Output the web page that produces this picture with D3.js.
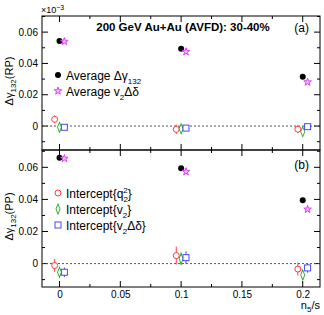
<!DOCTYPE html>
<html>
<head>
<meta charset="utf-8">
<script src="https://cdn.jsdelivr.net/npm/d3@7"></script>
<style>
  body { margin: 0; background: #fff; }
  svg { display: block; font-family: "Liberation Sans", Arial, sans-serif; }
</style>
</head>
<body>
<div id="chart"></div>
<script>
// n5/s values, and small x offsets used to separate the series
var xVals = [0, 0.1, 0.2];
var xTicks = [0, 0.05, 0.1, 0.15, 0.2];
var yTicks = [0, 0.02, 0.04, 0.06];

// panel (a): RP
var rpGamma = [0.0543, 0.0494, 0.0315];
var rpV2dd = [0.0540, 0.0475, 0.0281];
var rpQ2 = [0.0043, -0.0021, -0.0020];
var rpQ2Err = [0.0025, 0.0030, 0.0025];
var rpV2 = [-0.0008, -0.0017, -0.0036];
var rpV2Err = [0.0015, 0.0020, 0.0018];
var rpDd = [-0.0008, -0.0013, -0.0004];
var rpDdErr = [0.0015, 0.0018, 0.0015];

// panel (b): PP
var ppGamma = [0.0660, 0.0594, 0.0394];
var ppV2dd = [0.0655, 0.0573, 0.0338];
var ppQ2 = [-0.0012, 0.0050, -0.0034];
var ppQ2Err = [0.0040, 0.0055, 0.0040];
var ppV2 = [-0.0054, 0.0030, -0.0071];
var ppV2Err = [0.0030, 0.0040, 0.0030];
var ppDd = [-0.0054, 0.0037, -0.0027];
var ppDdErr = [0.0030, 0.0040, 0.0030];

var width = 324, height = 315;
var left = 42, right = 320;

var svg = d3.select("#chart").append("svg")
  .attr("width", width).attr("height", height);

var x = d3.scaleLinear().domain([-0.0144, 0.2142]).range([left, right]);

var panels = [
  { top: 16, bottom: 150, domain: [-0.0153, 0.0703], tag: "(a)", tagY: 32,
    ylab: "RP", gamma: rpGamma, v2dd: rpV2dd,
    q2: rpQ2, q2e: rpQ2Err, v2: rpV2, v2e: rpV2Err, dd: rpDd, dde: rpDdErr },
  { top: 150, bottom: 287, domain: [-0.0146, 0.0708], tag: "(b)", tagY: 169,
    ylab: "PP", gamma: ppGamma, v2dd: ppV2dd,
    q2: ppQ2, q2e: ppQ2Err, v2: ppV2, v2e: ppV2Err, dd: ppDd, dde: ppDdErr }
];

var red = "#ff3b3b", green = "#1fa81f", blue = "#4646ff", magenta = "#e040fb";
var star = d3.symbol().type(d3.symbolStar).size(18);
var diamond = d3.symbol().type(d3.symbolDiamond).size(22);

panels.forEach(function (p, i) {
  var y = d3.scaleLinear().domain(p.domain).range([p.bottom, p.top]);
  var g = svg.append("g");

  // minor + major ticks, inward on all four sides
  var xMinor = d3.range(0, 0.2001, 0.025);
  xMinor.forEach(function (v) {
    var len = Math.abs(v / 0.05 - Math.round(v / 0.05)) < 1e-6 ? 6 : 3;
    g.append("line").attr("x1", x(v)).attr("x2", x(v))
      .attr("y1", p.bottom).attr("y2", p.bottom - len).attr("stroke", "#000");
    g.append("line").attr("x1", x(v)).attr("x2", x(v))
      .attr("y1", p.top).attr("y2", p.top + len).attr("stroke", "#000");
  });
  var yMinor = d3.range(-0.01, 0.0701, 0.01);
  yMinor.forEach(function (v) {
    if (y(v) < p.top || y(v) > p.bottom) return;
    var len = Math.abs(v / 0.02 - Math.round(v / 0.02)) < 1e-6 ? 6 : 3;
    g.append("line").attr("x1", left).attr("x2", left + len)
      .attr("y1", y(v)).attr("y2", y(v)).attr("stroke", "#000");
    g.append("line").attr("x1", right).attr("x2", right - len)
      .attr("y1", y(v)).attr("y2", y(v)).attr("stroke", "#000");
  });

  var yAxis = d3.axisLeft(y).tickValues(yTicks).tickSize(0).tickPadding(4)
    .tickFormat(function (d) { return d === 0 ? "0" : d3.format(".2f")(d); });
  g.append("g").attr("transform", "translate(" + left + ",0)").call(yAxis)
    .call(function (a) { a.select(".domain").remove(); })
    .selectAll("text").style("font-size", "10px").attr("fill", "#000");

  if (i === 1) {
    var xAxis = d3.axisBottom(x).tickValues(xTicks).tickSize(0).tickPadding(4)
      .tickFormat(function (d) { return d === 0 ? "0" : String(d); });
    g.append("g").attr("transform", "translate(0," + p.bottom + ")").call(xAxis)
      .call(function (a) { a.select(".domain").remove(); })
      .selectAll("text").style("font-size", "10px").attr("fill", "#000");
  }

  // zero line
  g.append("line").attr("x1", left).attr("x2", right)
    .attr("y1", y(0)).attr("y2", y(0))
    .attr("stroke", "#555").attr("stroke-dasharray", "2,2");

  g.append("rect").attr("x", left).attr("y", p.top)
    .attr("width", right - left).attr("height", p.bottom - p.top)
    .attr("fill", "none").attr("stroke", "#000");

  // error bars
  function errs(vals, es, dx, col) {
    g.selectAll(null).data(xVals).enter().append("line")
      .attr("x1", function (d) { return x(d + dx); })
      .attr("x2", function (d) { return x(d + dx); })
      .attr("y1", function (d, j) { return y(vals[j] - es[j]); })
      .attr("y2", function (d, j) { return y(vals[j] + es[j]); })
      .attr("stroke", col);
  }
  errs(p.q2, p.q2e, -0.004, red);
  errs(p.v2, p.v2e, 0, green);
  errs(p.dd, p.dde, 0.004, blue);

  g.selectAll(null).data(xVals).enter().append("circle")
    .attr("cx", function (d) { return x(d - 0.004); })
    .attr("cy", function (d, j) { return y(p.q2[j]); })
    .attr("r", 3).attr("fill", "#fff").attr("stroke", red);
  g.selectAll(null).data(xVals).enter().append("path")
    .attr("d", diamond)
    .attr("transform", function (d, j) { return "translate(" + x(d) + "," + y(p.v2[j]) + ") scale(0.8,1.15)"; })
    .attr("fill", "#fff").attr("stroke", green);
  g.selectAll(null).data(xVals).enter().append("rect")
    .attr("x", function (d) { return x(d + 0.004) - 3; })
    .attr("y", function (d, j) { return y(p.dd[j]) - 3; })
    .attr("width", 6).attr("height", 6).attr("fill", "#fff").attr("stroke", blue);

  g.selectAll(null).data(xVals).enter().append("circle")
    .attr("cx", function (d) { return x(d); })
    .attr("cy", function (d, j) { return y(p.gamma[j]); })
    .attr("r", 3).attr("fill", "#000");
  g.selectAll(null).data(xVals).enter().append("path")
    .attr("d", star)
    .attr("transform", function (d, j) { return "translate(" + x(d + 0.004) + "," + y(p.v2dd[j]) + ")"; })
    .attr("fill", "#f4b8ff").attr("stroke", magenta);

  g.append("text").attr("x", 309).attr("y", p.tagY).attr("text-anchor", "end")
    .style("font-size", "12px").text(p.tag);

  // y label
  var yl = g.append("text")
    .attr("transform", "translate(13," + ((p.top + p.bottom) / 2 - 2) + ") rotate(-90)")
    .attr("text-anchor", "middle").style("font-size", "11px");
  yl.append("tspan").text("Δγ");
  yl.append("tspan").attr("dy", 3).style("font-size", "8px").text("132");
  yl.append("tspan").attr("dy", -3).text("(" + p.ylab + ")");
});

// title and multiplier
svg.append("text").attr("x", 183).attr("y", 31).attr("text-anchor", "middle")
  .style("font-size", "11.5px").style("font-weight", "bold")
  .text("200 GeV Au+Au (AVFD): 30-40%");
var mult = svg.append("text").attr("x", 41).attr("y", 13).style("font-size", "9px");
mult.append("tspan").text("×10");
mult.append("tspan").attr("dy", -3).style("font-size", "7px").text("−3");

// x label
var xl = svg.append("text").attr("x", 320).attr("y", 309).attr("text-anchor", "end")
  .style("font-size", "11px");
xl.append("tspan").text("n");
xl.append("tspan").attr("dy", 3).style("font-size", "8px").text("5");
xl.append("tspan").attr("dy", -3).text("/s");

// legends
function legendText(sel, parts) {
  parts.forEach(function (pt) {
    var t = sel.append("tspan").text(pt[0]);
    if (pt[1]) t.attr("dy", pt[1]);
    if (pt[2]) t.style("font-size", pt[2]);
    if (pt[3]) t.attr("dx", pt[3]);
  });
}
var lg = svg.append("g").style("font-size", "12px");
lg.append("circle").attr("cx", 58).attr("cy", 75).attr("r", 3).attr("fill", "#000");
legendText(lg.append("text").attr("x", 66).attr("y", 80),
  [["Average Δγ"], ["132", 4, "8px"]]);
lg.append("path").attr("d", star).attr("transform", "translate(58,91)")
  .attr("fill", "#f4b8ff").attr("stroke", magenta);
legendText(lg.append("text").attr("x", 66).attr("y", 96),
  [["Average v"], ["2", 4, "8px"], ["Δδ", -4]]);

lg.append("circle").attr("cx", 58).attr("cy", 193).attr("r", 3)
  .attr("fill", "#fff").attr("stroke", red);
legendText(lg.append("text").attr("x", 66).attr("y", 198),
  [["Intercept{q"], ["2", 4, "8px"], ["2", -9, "8px", -4.5], ["}", 5]]);
lg.append("path").attr("d", diamond).attr("transform", "translate(58,209) scale(0.8,1.15)")
  .attr("fill", "#fff").attr("stroke", green);
legendText(lg.append("text").attr("x", 66).attr("y", 214),
  [["Intercept{v"], ["2", 4, "8px"], ["}", -4]]);
lg.append("rect").attr("x", 55).attr("y", 222).attr("width", 6).attr("height", 6)
  .attr("fill", "#fff").attr("stroke", blue);
legendText(lg.append("text").attr("x", 66).attr("y", 230),
  [["Intercept{v"], ["2", 4, "8px"], ["Δδ}", -4]]);
</script>
</body>
</html>
